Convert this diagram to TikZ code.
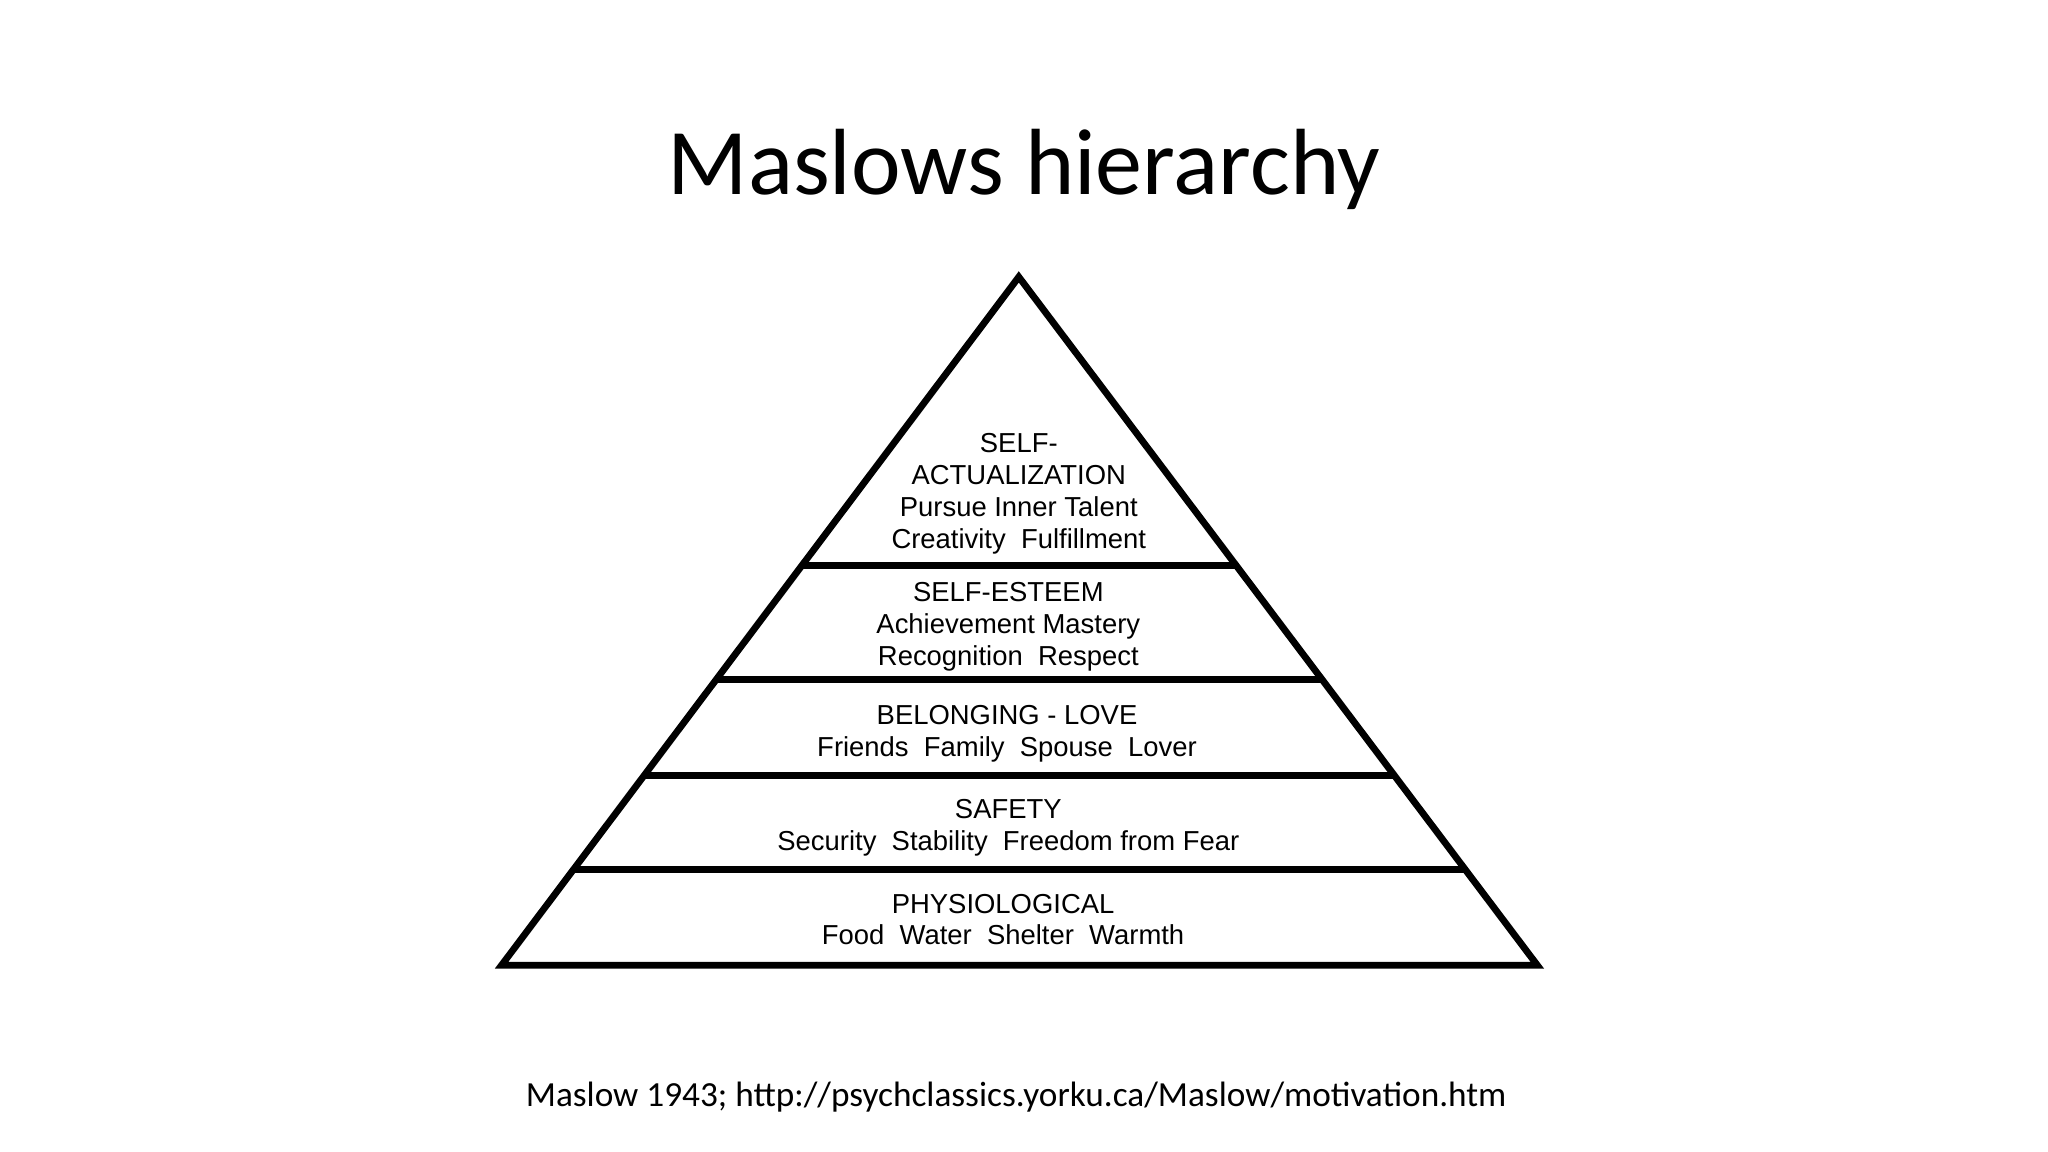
\documentclass[tikz,border=0pt]{standalone}
\usepackage{fontspec}
\usetikzlibrary{calc}
\setmainfont{Carlito}
\newfontfamily\pyr{Liberation Sans}
\begin{document}
\begin{tikzpicture}[x=0.5pt,y=-0.5pt,
  lvl/.style={font=\pyr\fontsize{10.5}{12.2}\selectfont, align=center, inner sep=0pt},
  edge/.style={line width=2.6pt, line join=miter}]
\useasboundingbox (0,0) rectangle (1568,882);
\node[font=\fontsize{36}{40}\selectfont] (title) at (784,130) {Maslows hierarchy};
\coordinate (A) at (780,212);
\coordinate (L) at (384,739);
\coordinate (R) at (1177,739);
\draw[edge] (A) -- (L) -- (R) -- cycle;
\foreach \y in {433,520,594,666}{
  \pgfmathsetmacro\t{(\y-212)/527}
  \draw[edge] ($(A)!\t!(L)$) -- ($(A)!\t!(R)$);
}
\node[lvl] (l1) at (780,378) {SELF-\\ACTUALIZATION\\Pursue Inner Talent\\Creativity\ \ Fulfillment};
\node[lvl] (l2) at (772,480) {SELF-ESTEEM\\Achievement Mastery\\Recognition\ \ Respect};
\node[lvl] (l3) at (771,562) {BELONGING - LOVE\\Friends\ \ Family\ \ Spouse\ \ Lover};
\node[lvl] (l4) at (772,634) {SAFETY\\Security\ \ Stability\ \ Freedom from Fear};
\node[lvl] (l5) at (768,704) {PHYSIOLOGICAL\\Food\ \ Water\ \ Shelter\ \ Warmth};
\node[font=\fontsize{13.5}{16}\selectfont] (foot) at (778,840) {Maslow 1943; http://psychclassics.yorku.ca/Maslow/motivation.htm};
\end{tikzpicture}
\end{document}
